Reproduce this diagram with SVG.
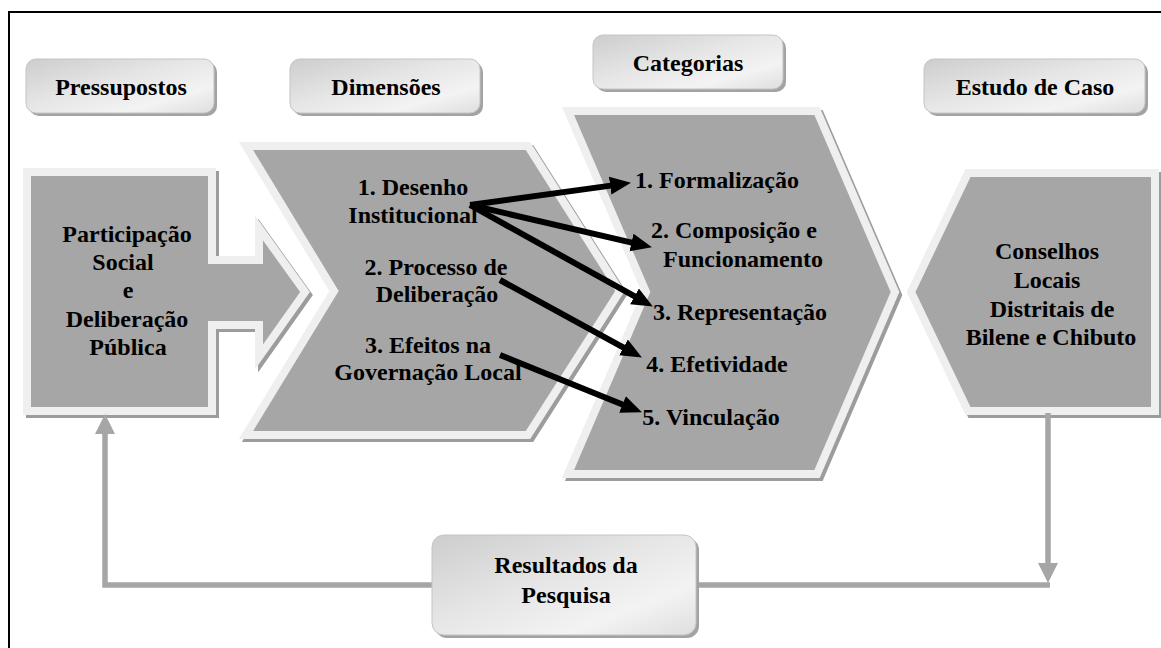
<svg xmlns="http://www.w3.org/2000/svg" width="1161" height="648" viewBox="0 0 1161 648" font-family="'Liberation Serif','Times New Roman','DejaVu Serif',serif">
<style>
text{font-family:'Liberation Serif','Times New Roman','DejaVu Serif',serif;font-weight:700;font-size:24px;fill:#000;text-anchor:middle}
.shape{fill:#a6a6a6;stroke:#efefef;stroke-width:8;stroke-linejoin:miter}
.shadow{fill:#9c9c9c;stroke:#9c9c9c;stroke-width:8}
.hdr{fill:url(#hg);stroke:#c4c4c4;stroke-width:1}
.hdrsh{fill:#a3a3a3}
.gray{fill:none;stroke:#a6a6a6;stroke-width:5.5}
.blk{fill:none;stroke:#000;stroke-width:6;marker-end:url(#ah)}
</style>
<defs>
<linearGradient id="hg" x1="0" y1="0" x2="1" y2="1">
<stop offset="0" stop-color="#cdcdcd"/>
<stop offset="0.45" stop-color="#e6e6e6"/>
<stop offset="0.75" stop-color="#f3f3f3"/>
<stop offset="1" stop-color="#dedede"/>
</linearGradient>
<marker id="ah" markerUnits="userSpaceOnUse" markerWidth="22" markerHeight="20" refX="8" refY="10" orient="auto">
<path d="M0,1 L21,10 L0,19 z" fill="#000"/>
</marker>
<marker id="gh" markerUnits="userSpaceOnUse" markerWidth="22" markerHeight="22" refX="2" refY="11" orient="auto">
<path d="M0,1 L20,11 L0,21 z" fill="#a6a6a6"/>
</marker>
</defs>
<rect width="1161" height="648" fill="#fff"/>
<rect x="9" y="12" width="1160" height="700" fill="none" stroke="#000" stroke-width="2"/>

<g id="hdr-pressupostos">
<rect class="hdrsh" x="29" y="62" width="188" height="54" rx="10"/>
<rect class="hdr" x="26" y="59" width="188" height="54" rx="10"/>
<text x="121" y="95">Pressupostos</text>
</g>
<g id="hdr-dimensoes">
<rect class="hdrsh" x="293" y="62" width="190" height="54" rx="10"/>
<rect class="hdr" x="290" y="59" width="190" height="54" rx="10"/>
<text x="386" y="95">Dimensões</text>
</g>
<g id="hdr-categorias">
<rect class="hdrsh" x="596" y="38" width="190" height="54" rx="10"/>
<rect class="hdr" x="593" y="35" width="190" height="54" rx="10"/>
<text x="688" y="71">Categorias</text>
</g>
<g id="hdr-estudo">
<rect class="hdrsh" x="927" y="62" width="221" height="54" rx="10"/>
<rect class="hdr" x="924" y="59" width="221" height="54" rx="10"/>
<text x="1035" y="95">Estudo de Caso</text>
</g>

<g id="node-participacao">
<path class="shadow" transform="translate(3,3)" d="M27,172 H212 V260 H259 V228 L305,292 L259,357 V325 H212 V411 H27 Z"/>
<path class="shape" d="M27,172 H212 V260 H259 V228 L305,292 L259,357 V325 H212 V411 H27 Z"/>
<text x="127" y="242">Participação</text>
<text x="123" y="270">Social</text>
<text x="128" y="298">e</text>
<text x="127" y="327">Deliberação</text>
<text x="128" y="355">Pública</text>
</g>

<g id="node-dimensoes">
<path class="shadow" transform="translate(3,3)" d="M246,146 H528 L620,291 L528,435 H246 L334,291 Z"/>
<path class="shape" d="M246,146 H528 L620,291 L528,435 H246 L334,291 Z"/>
<text x="413" y="195">1. Desenho</text>
<text x="413" y="223">Institucional</text>
<text x="436" y="275">2. Processo de</text>
<text x="437" y="302">Deliberação</text>
<text x="428" y="353">3. Efeitos na</text>
<text x="428" y="380">Governação Local</text>
</g>

<g id="node-categorias">
<path class="shadow" transform="translate(3,3)" d="M568,111 H817 L895,292 L817,474 H568 L646,292 Z"/>
<path class="shape" d="M568,111 H817 L895,292 L817,474 H568 L646,292 Z"/>
<text x="717" y="188">1. Formalização</text>
<text x="734" y="238">2. Composição e</text>
<text x="743" y="267">Funcionamento</text>
<text x="740" y="320">3. Representação</text>
<text x="717" y="372">4. Efetividade</text>
<text x="711" y="425">5. Vinculação</text>
</g>

<g id="node-conselhos">
<path class="shadow" transform="translate(3,3)" d="M968,173 H1155 V411 H968 L911,292 Z"/>
<path class="shape" d="M968,173 H1155 V411 H968 L911,292 Z"/>
<text x="1047" y="259">Conselhos</text>
<text x="1047" y="288">Locais</text>
<text x="1052" y="317">Distritais de</text>
<text x="1051" y="345">Bilene e Chibuto</text>
</g>

<g id="connectors">
<polyline class="gray" points="432,585 105,585 105,432" marker-end="url(#gh)"/>
<polyline class="gray" points="699,585 1050,585"/>
<line class="gray" x1="1048" y1="413" x2="1048" y2="565" marker-end="url(#gh)"/>
<line class="blk" x1="470" y1="205" x2="618.1" y2="184.6"/>
<line class="blk" x1="470" y1="205" x2="639.3" y2="244.3"/>
<line class="blk" x1="470" y1="205" x2="641.5" y2="300.2"/>
<line class="blk" x1="500" y1="280" x2="630.5" y2="351.3"/>
<line class="blk" x1="500" y1="355" x2="629.9" y2="407.5"/>
</g>

<g id="node-resultados">
<rect class="hdrsh" x="435" y="538" width="264" height="100" rx="12"/>
<rect class="hdr" x="432" y="535" width="264" height="100" rx="12"/>
<text x="566" y="573">Resultados da</text>
<text x="566" y="603">Pesquisa</text>
</g>
</svg>
